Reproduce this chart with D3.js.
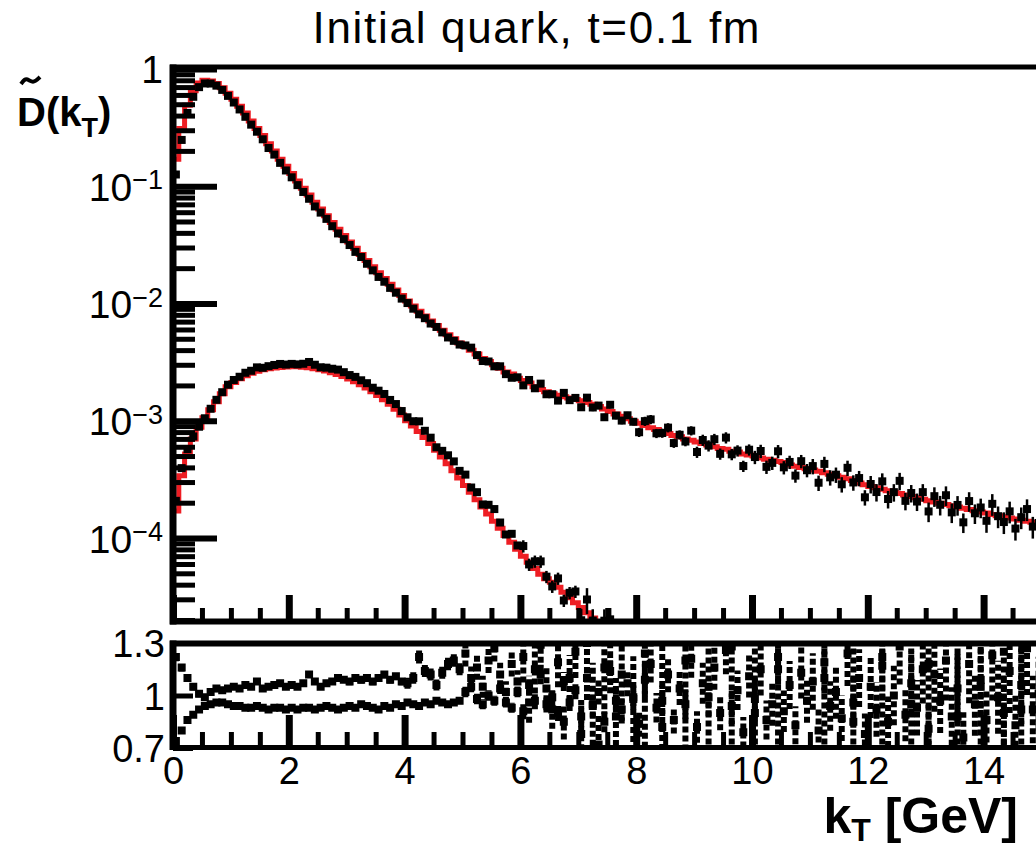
<!DOCTYPE html>
<html>
<head>
<meta charset="utf-8">
<script src="https://cdn.jsdelivr.net/npm/d3@7"></script>
<style>
  body { margin: 0; background: #fff; }
  svg { display: block; font-family: "Liberation Sans", Arial, Helvetica, sans-serif; }
</style>
</head>
<body>
<svg id="chart" width="1036" height="848"></svg>
<script>
// bins of 0.1 GeV starting at kT = 0
var binWidth = 0.1;

// red histogram, upper curve
var modelUpper = [0.17,0.31,0.49,0.65,0.76,0.80,0.79,0.75,0.69,0.62,
  0.55,0.48,0.42,0.36,0.31,0.27,0.23,0.20,0.17,0.148,
  0.128,0.111,0.096,0.084,0.073,0.064,0.056,0.049,0.043,0.038,
  0.0335,0.0296,0.0262,0.0232,0.0206,0.0183,0.0163,0.0146,0.0130,0.0117,
  0.0105,0.0095,0.0086,0.0078,0.0071,0.0065,0.0059,0.0054,0.0050,0.0046,
  0.0043,0.0040,0.0037,0.0034,0.0032,0.0030,0.0028,0.0026,0.0025,0.0023,
  0.0022,0.0021,0.00195,0.00185,0.00177,0.00170,0.00165,0.00160,0.00156,0.00152,
  0.00148,0.00143,0.00138,0.00132,0.00126,0.00120,0.00114,0.00109,0.00104,0.00099,
  0.00095,0.00091,0.00087,0.00084,0.00081,0.00078,0.00075,0.00073,0.00070,0.00068,
  0.00066,0.00064,0.00062,0.00060,0.00058,0.00057,0.00055,0.00054,0.00052,0.00051,
  0.00050,0.00048,0.00047,0.00046,0.00045,0.00044,0.00042,0.00041,0.00040,0.00039,
  0.00038,0.00037,0.00036,0.00035,0.00034,0.00033,0.00032,0.00031,0.000295,0.000285,
  0.000275,0.000268,0.000260,0.000253,0.000246,0.000240,0.000233,0.000226,0.000220,0.000214,
  0.000208,0.000203,0.000198,0.000193,0.000188,0.000184,0.000179,0.000175,0.000171,0.000167,
  0.000163,0.000159,0.000155,0.000152,0.000148,0.000145,0.000142,0.000139,0.000136,0.000133];

// red histogram, lower curve (falls out of the frame near 7.3 GeV)
var modelLower = [1.7e-4,3.4e-4,5.2e-4,7.0e-4,8.8e-4,1.06e-3,1.24e-3,1.45e-3,1.70e-3,1.95e-3,
  2.12e-3,2.28e-3,2.42e-3,2.54e-3,2.64e-3,2.72e-3,2.78e-3,2.82e-3,2.85e-3,2.87e-3,
  2.88e-3,2.88e-3,2.86e-3,2.83e-3,2.78e-3,2.72e-3,2.65e-3,2.57e-3,2.48e-3,2.38e-3,
  2.27e-3,2.15e-3,2.03e-3,1.90e-3,1.77e-3,1.64e-3,1.51e-3,1.38e-3,1.25e-3,1.12e-3,
  1.00e-3,9.0e-4,8.1e-4,7.2e-4,6.4e-4,5.6e-4,4.9e-4,4.3e-4,3.75e-4,3.25e-4,
  2.8e-4,2.45e-4,2.12e-4,1.84e-4,1.60e-4,1.39e-4,1.21e-4,1.05e-4,9.2e-5,8.0e-5,
  7.0e-5,6.2e-5,5.5e-5,4.9e-5,4.5e-5,4.2e-5,3.8e-5,3.45e-5,3.1e-5,2.8e-5,
  2.55e-5,2.3e-5,2.08e-5,1.88e-5,1.7e-5,1.5e-5];

// black points / red histogram (bottom panel), 0 = empty bin
var ratioUpper = [0.74,0.80,0.86,0.89,0.92,0.94,0.95,0.96,0.96,0.95,
  0.94,0.94,0.93,0.93,0.94,0.93,0.92,0.93,0.93,0.92,
  0.93,0.92,0.93,0.93,0.92,0.93,0.94,0.93,0.92,0.93,
  0.94,0.93,0.95,0.94,0.93,0.92,0.94,0.93,0.95,0.94,
  0.96,0.95,0.94,0.96,0.95,0.97,0.96,0.95,0.96,0.97,
  1.02,1.05,0.98,0.95,1.00,0.97,1.04,0.96,0.93,1.02,
  0.91,1.06,0.97,1.12,0.95,0.99,0.90,1.08,0.96,1.03,
  0.88,1.10,0.94,1.02,0.85,1.14,0.97,0.92,1.07,0.99,
  0.84,1.09,1.18,0.93,0.97,1.12,0.86,1.04,0.95,1.21,
  0.82,1.07,0.99,1.16,0.90,1.26,0.94,1.03,0.79,1.11,
  0.98,1.15,0.86,0.95,1.22,0.91,1.06,0.83,1.13,0.97,
  1.08,0.80,1.19,0.94,1.02,0.87,1.24,0.96,1.10,0.78,
  1.05,0.92,1.17,0.85,1.00,1.28,0.89,1.07,0.93,1.15,
  0.81,1.12,0.97,1.20,0.88,1.04,0.76,1.18,0.95,1.09,
  0.86,1.23,0.99,0.90,1.14,0.83,1.06,1.27,0.92,1.01];

var ratioLower = [1.22,1.16,1.10,1.05,1.01,0.99,1.02,1.04,1.03,1.04,
  1.05,1.04,1.06,1.05,1.08,1.04,1.05,1.06,1.07,1.05,
  1.06,1.05,1.07,1.12,1.08,1.05,1.07,1.08,1.10,1.09,
  1.08,1.10,1.09,1.10,1.08,1.10,1.12,1.09,1.11,1.08,
  1.07,1.10,1.22,1.14,1.12,1.06,1.13,1.18,1.20,1.15,
  1.24,1.10,1.16,1.05,1.20,1.27,1.12,1.02,1.18,1.08,
  1.22,0.96,1.15,1.29,1.04,0.92,1.19,0.85,1.10,1.25,
  0.78,1.30,0.95,0.72,1.16,1.35,0.88,1.12,0,0.98,
  0,1.24,0,0,0.82,0,0,0,1.20,0,
  0,0,1.05,0,0,0,1.28,0,0,0,
  0.90,0,0,0,1.15,0,0,0,0,0,
  0,0,1.10,0,0,0,0,0.85,0,0,
  0,0,1.22,0,0,0,0,0.95,0,0,
  1.18,0,0,0,0,0.88,0,0,0,1.05,
  0,0,0,1.25,0,0,0.92,0,0,0];

// relative statistical error of the black points, one value per GeV
var errUpper = [0.01,0.01,0.012,0.015,0.02,0.03,0.05,0.07,0.09,0.11,0.13,0.15,0.17,0.19,0.21];
var errLower = [0.02,0.015,0.015,0.02,0.03,0.06,0.12,0.25,0.6,1.0,1.0,1.0,1.0,1.0,1.0];

var xMajor = [0,2,4,6,8,10,12,14];
var yMajor = [1e-4,1e-3,1e-2,1e-1,1];
var ratioTicks = [0.7,1,1.3];

var red = '#ee1d23';
var svg = d3.select('#chart');

var x = d3.scaleLinear().domain([0,15]).range([173, 173 + 15*57.9]);
var yTop = d3.scaleLog().domain([1.96e-5, 1.08]).range([621, 65]);
var yRat = d3.scaleLinear().domain([0.7,1.3]).range([748,643]);

var xMinor = d3.range(0, 15.01, 0.5).filter(function(v) { return v % 2 !== 0; });
var yMinor = [];
for (var d = -5; d <= 0; d++) {
  for (var k = 2; k <= 9; k++) {
    var v = k * Math.pow(10, d);
    if (v > 1.96e-5 && v < 1.08) yMinor.push(v);
  }
}

var defs = svg.append('defs');
defs.append('clipPath').attr('id','clipTop').append('rect')
  .attr('x',173).attr('y',65).attr('width',870).attr('height',556);
defs.append('clipPath').attr('id','clipRat').append('rect')
  .attr('x',173).attr('y',643).attr('width',870).attr('height',105);

var gTop = svg.append('g').attr('clip-path','url(#clipTop)');
var gRat = svg.append('g').attr('clip-path','url(#clipRat)');

function stepPoints(vals) {
  var pts = vals.map(function(v,i) { return [i*binWidth, v]; });
  pts.push([vals.length*binWidth, vals[vals.length-1]]);
  return pts;
}
var stepLine = d3.line()
  .x(function(d) { return x(d[0]); })
  .y(function(d) { return yTop(d[1]); })
  .curve(d3.curveStepAfter);

[modelUpper, modelLower].forEach(function(m) {
  gTop.append('path').datum(stepPoints(m))
    .attr('d', stepLine).attr('fill','none')
    .attr('stroke', red).attr('stroke-width',5);
});

// black data points in the top panel
function topPoints(model, ratio, err) {
  var out = [];
  model.forEach(function(m,i) {
    if (ratio[i] > 0) {
      var xc = (i + 0.5)*binWidth;
      out.push({ x: xc, v: m*ratio[i], e: err[Math.floor(xc)] });
    }
  });
  return out;
}
var ptsTop = topPoints(modelUpper, ratioUpper, errUpper)
  .concat(topPoints(modelLower, ratioLower, errLower));

gTop.selectAll('line.ey').data(ptsTop).enter().append('line')
  .attr('x1', function(d) { return x(d.x); })
  .attr('x2', function(d) { return x(d.x); })
  .attr('y1', function(d) { return yTop(Math.max(d.v*(1-d.e), 1e-6)); })
  .attr('y2', function(d) { return yTop(d.v*(1+d.e)); })
  .attr('stroke','#000').attr('stroke-width',2.5);
gTop.selectAll('line.ex').data(ptsTop).enter().append('line')
  .attr('x1', function(d) { return x(d.x - binWidth/2); })
  .attr('x2', function(d) { return x(d.x + binWidth/2); })
  .attr('y1', function(d) { return yTop(d.v); })
  .attr('y2', function(d) { return yTop(d.v); })
  .attr('stroke','#000').attr('stroke-width',2.5);
gTop.selectAll('rect.m').data(ptsTop).enter().append('rect')
  .attr('x', function(d) { return x(d.x) - 4; })
  .attr('y', function(d) { return yTop(d.v) - 4; })
  .attr('width',8).attr('height',8).attr('fill','#000');

// ratio panel
var ptsRat = [];
[[ratioUpper, errUpper], [ratioLower, errLower]].forEach(function(s) {
  s[0].forEach(function(r,i) {
    if (r > 0) {
      var xc = (i + 0.5)*binWidth;
      ptsRat.push({ x: xc, r: r, e: r*s[1][Math.floor(xc)] });
    }
  });
});
gRat.selectAll('line.ey').data(ptsRat).enter().append('line')
  .attr('x1', function(d) { return x(d.x); })
  .attr('x2', function(d) { return x(d.x); })
  .attr('y1', function(d) { return yRat(d.r - d.e); })
  .attr('y2', function(d) { return yRat(d.r + d.e); })
  .attr('stroke','#000').attr('stroke-width',6).attr('stroke-dasharray','6,3');
gRat.selectAll('line.ex').data(ptsRat).enter().append('line')
  .attr('x1', function(d) { return x(d.x - binWidth/2); })
  .attr('x2', function(d) { return x(d.x + binWidth/2); })
  .attr('y1', function(d) { return yRat(d.r); })
  .attr('y2', function(d) { return yRat(d.r); })
  .attr('stroke','#000').attr('stroke-width',4);
gRat.selectAll('rect.m').data(ptsRat).enter().append('rect')
  .attr('x', function(d) { return x(d.x) - 4; })
  .attr('y', function(d) { return yRat(d.r) - 4; })
  .attr('width',8).attr('height',8).attr('fill','#000');

// axes
function styleAxis(g, w) {
  g.select('.domain').remove();
  g.selectAll('.tick line').attr('stroke','#000').attr('stroke-width', w);
  g.selectAll('text').attr('fill','#000');
}

var gyMin = svg.append('g').attr('transform','translate(173,0)')
  .call(d3.axisLeft(yTop).tickValues(yMinor).tickSize(-22).tickFormat(''));
styleAxis(gyMin, 5);
var gyMaj = svg.append('g').attr('transform','translate(173,0)')
  .call(d3.axisLeft(yTop).tickValues(yMajor).tickSize(-44).tickPadding(10).tickFormat(''));
styleAxis(gyMaj, 6);
gyMaj.selectAll('.tick text').each(function(v) {
  var t = d3.select(this).attr('font-size', 39).attr('dy','0.36em');
  var p = Math.round(Math.log10(v));
  if (p === 0) { t.text('1'); return; }
  t.append('tspan').text('10');
  t.append('tspan').attr('dy','-0.42em').attr('font-size',27).text('\u2212' + (-p));
});

var gxTopMin = svg.append('g').attr('transform','translate(0,621)')
  .call(d3.axisBottom(x).tickValues(xMinor).tickSize(-13).tickFormat(''));
styleAxis(gxTopMin, 5);
var gxTopMaj = svg.append('g').attr('transform','translate(0,621)')
  .call(d3.axisBottom(x).tickValues(xMajor).tickSize(-26).tickFormat(''));
styleAxis(gxTopMaj, 7);

var gxRatMin = svg.append('g').attr('transform','translate(0,748)')
  .call(d3.axisBottom(x).tickValues(xMinor).tickSize(-16).tickFormat(''));
styleAxis(gxRatMin, 5);
var gxRatMaj = svg.append('g').attr('transform','translate(0,748)')
  .call(d3.axisBottom(x).tickValues(xMajor).tickSize(-33).tickPadding(9).tickFormat(d3.format('d')));
styleAxis(gxRatMaj, 7);
gxRatMaj.selectAll('.tick text').attr('font-size',38);

var gyRat = svg.append('g').attr('transform','translate(173,0)')
  .call(d3.axisLeft(yRat).tickValues(ratioTicks).tickSize(-20).tickPadding(8)
    .tickFormat(function(v) { return v === 1 ? '1' : d3.format('.1f')(v); }));
styleAxis(gyRat, 5);
gyRat.selectAll('.tick text').attr('font-size',38).attr('dy','0.36em');

// frames (right edge lies outside the picture)
var xr = x.range()[1];
function hline(y, w) {
  svg.append('line').attr('x1',170).attr('x2',xr).attr('y1',y).attr('y2',y)
    .attr('stroke','#000').attr('stroke-width',w);
}
function vline(y1, y2) {
  svg.append('line').attr('x1',173).attr('x2',173).attr('y1',y1).attr('y2',y2)
    .attr('stroke','#000').attr('stroke-width',7);
}
hline(67, 5); hline(621.5, 6); hline(643.5, 6); hline(747.5, 5);
vline(64.5, 624.5); vline(640.5, 750);

// texts
svg.append('text').attr('x',536).attr('y',43).attr('text-anchor','middle')
  .attr('font-size',44).attr('textLength',447).attr('lengthAdjust','spacing')
  .text('Initial quark, t=0.1 fm');

var yt = svg.append('text').attr('x',17).attr('y',126)
  .attr('font-size',40).attr('font-weight','bold');
yt.append('tspan').text('D(k');
yt.append('tspan').attr('dy',11).attr('font-size',27).text('T');
yt.append('tspan').attr('dy',-11).text(')');
// tilde over the D
svg.append('path')
  .attr('d', d3.line().curve(d3.curveBasis)([[21,84],[26,77],[33,84],[40,77]]))
  .attr('fill','none').attr('stroke','#000').attr('stroke-width',4);

var xt = svg.append('text').attr('x',1018).attr('y',833).attr('text-anchor','end')
  .attr('font-size',50).attr('font-weight','bold');
xt.append('tspan').text('k');
xt.append('tspan').attr('dy',8).attr('font-size',32).text('T');
xt.append('tspan').attr('dy',-8).text(' [GeV]');
</script>
</body>
</html>
